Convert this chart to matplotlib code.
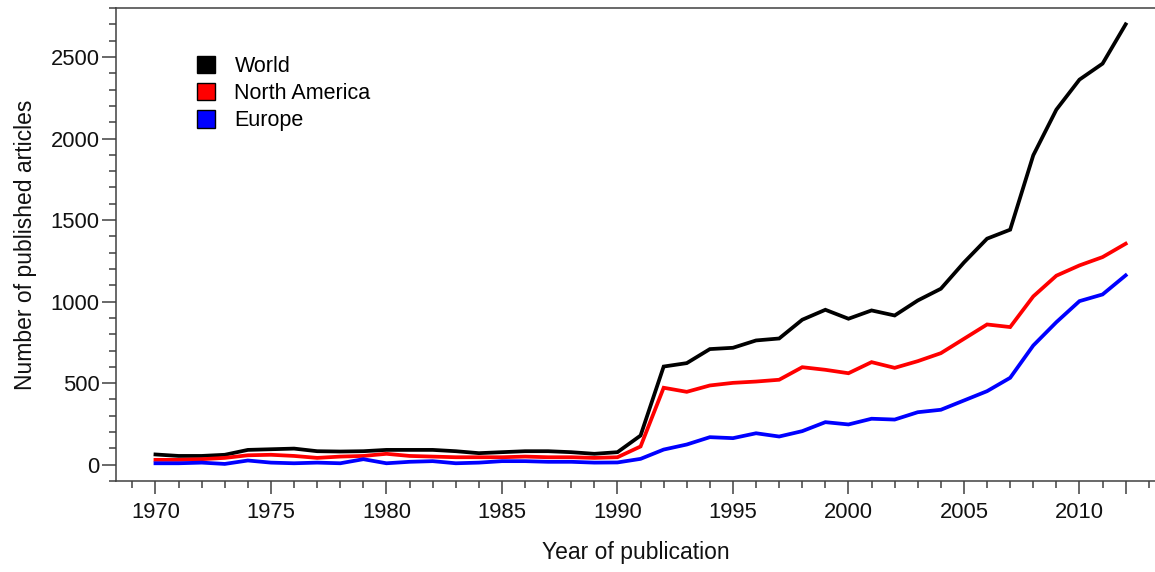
import numpy as np
import matplotlib
matplotlib.use('Agg')
import matplotlib.pyplot as plt
from matplotlib.patches import Patch
from matplotlib.ticker import MultipleLocator, FixedLocator

plt.rcParams['font.family'] = ['Liberation Sans', 'DejaVu Sans']

# 数据
years = list(range(1970, 2013))
world = [63, 54, 54, 61, 91, 95, 99, 83, 81, 83,
         91, 91, 91, 83, 71, 77, 83, 83, 77, 67,
         77, 179, 602, 623, 709, 717, 762, 774, 889, 950,
         895, 946, 915, 1007, 1079, 1240, 1386, 1441, 1897, 2177,
         2361, 2459, 2700]
north_america = [30, 30, 34, 42, 58, 61, 54, 42, 50, 54,
                 67, 54, 50, 46, 46, 46, 50, 46, 46, 42,
                 46, 112, 472, 447, 486, 502, 510, 521, 598, 582,
                 561, 629, 594, 635, 684, 772, 860, 844, 1032, 1159,
                 1222, 1273, 1355]
europe = [9, 9, 13, 5, 26, 13, 9, 13, 9, 34,
          9, 18, 22, 9, 13, 22, 22, 18, 18, 13,
          14, 36, 93, 124, 169, 163, 193, 173, 206, 261,
          247, 282, 277, 322, 337, 394, 451, 533, 731, 874,
          1003, 1044, 1161]

series_names = ['World', 'North America', 'Europe']
series_colors = ['#000000', '#ff0000', '#0000ff']

fig = plt.figure(figsize=(11.55, 5.72), dpi=100)
ax = fig.add_axes([0.1002, 0.159, 0.8998, 0.827])

for vals, name, c in zip([world, north_america, europe], series_names, series_colors):
    ax.plot(years, vals, color=c, lw=2.7, solid_joinstyle='miter', label=name)

ax.set_xlim(1968.28, 2013.27)
ax.set_ylim(-100, 2800)

# 坐标轴样式
spine_c = '#404040'
for s in ['left', 'bottom', 'top']:
    ax.spines[s].set_color(spine_c)
    ax.spines[s].set_linewidth(1.1)
ax.spines['right'].set_visible(False)

ax.xaxis.set_major_locator(FixedLocator([1970, 1975, 1980, 1985, 1990, 1995, 2000, 2005, 2010, 2012]))
ax.set_xticklabels(['1970', '1975', '1980', '1985', '1990', '1995', '2000', '2005', '2010', ''])
ax.xaxis.set_minor_locator(MultipleLocator(1))
ax.yaxis.set_major_locator(FixedLocator([0, 500, 1000, 1500, 2000, 2500]))
ax.yaxis.set_minor_locator(MultipleLocator(100))

ax.tick_params(axis='both', which='both', direction='out', color=spine_c, width=1.1,
               top=False, right=False, labelsize=15.8, labelcolor='#111111')
ax.tick_params(axis='x', which='major', length=9.2, pad=6)
ax.tick_params(axis='x', which='minor', length=4.8)
ax.tick_params(axis='y', which='major', length=10, pad=1.5)
ax.tick_params(axis='y', which='minor', length=5.2)

ax.set_xlabel('Year of publication', fontsize=16.5, color='#111111', labelpad=13)
ax.set_ylabel('Number of published articles', fontsize=16.5, color='#111111', labelpad=10)

handles = [Patch(facecolor=c, edgecolor='#000000', linewidth=1.0) for c in series_colors]
ax.legend(handles, series_names, loc='upper left', bbox_to_anchor=(0.078, 0.898),
          frameon=False, fontsize=15.5, handlelength=0.85, handleheight=0.85,
          handletextpad=0.9, labelspacing=0.28, borderpad=0, borderaxespad=0)

fig.savefig('out.png', dpi=100)
